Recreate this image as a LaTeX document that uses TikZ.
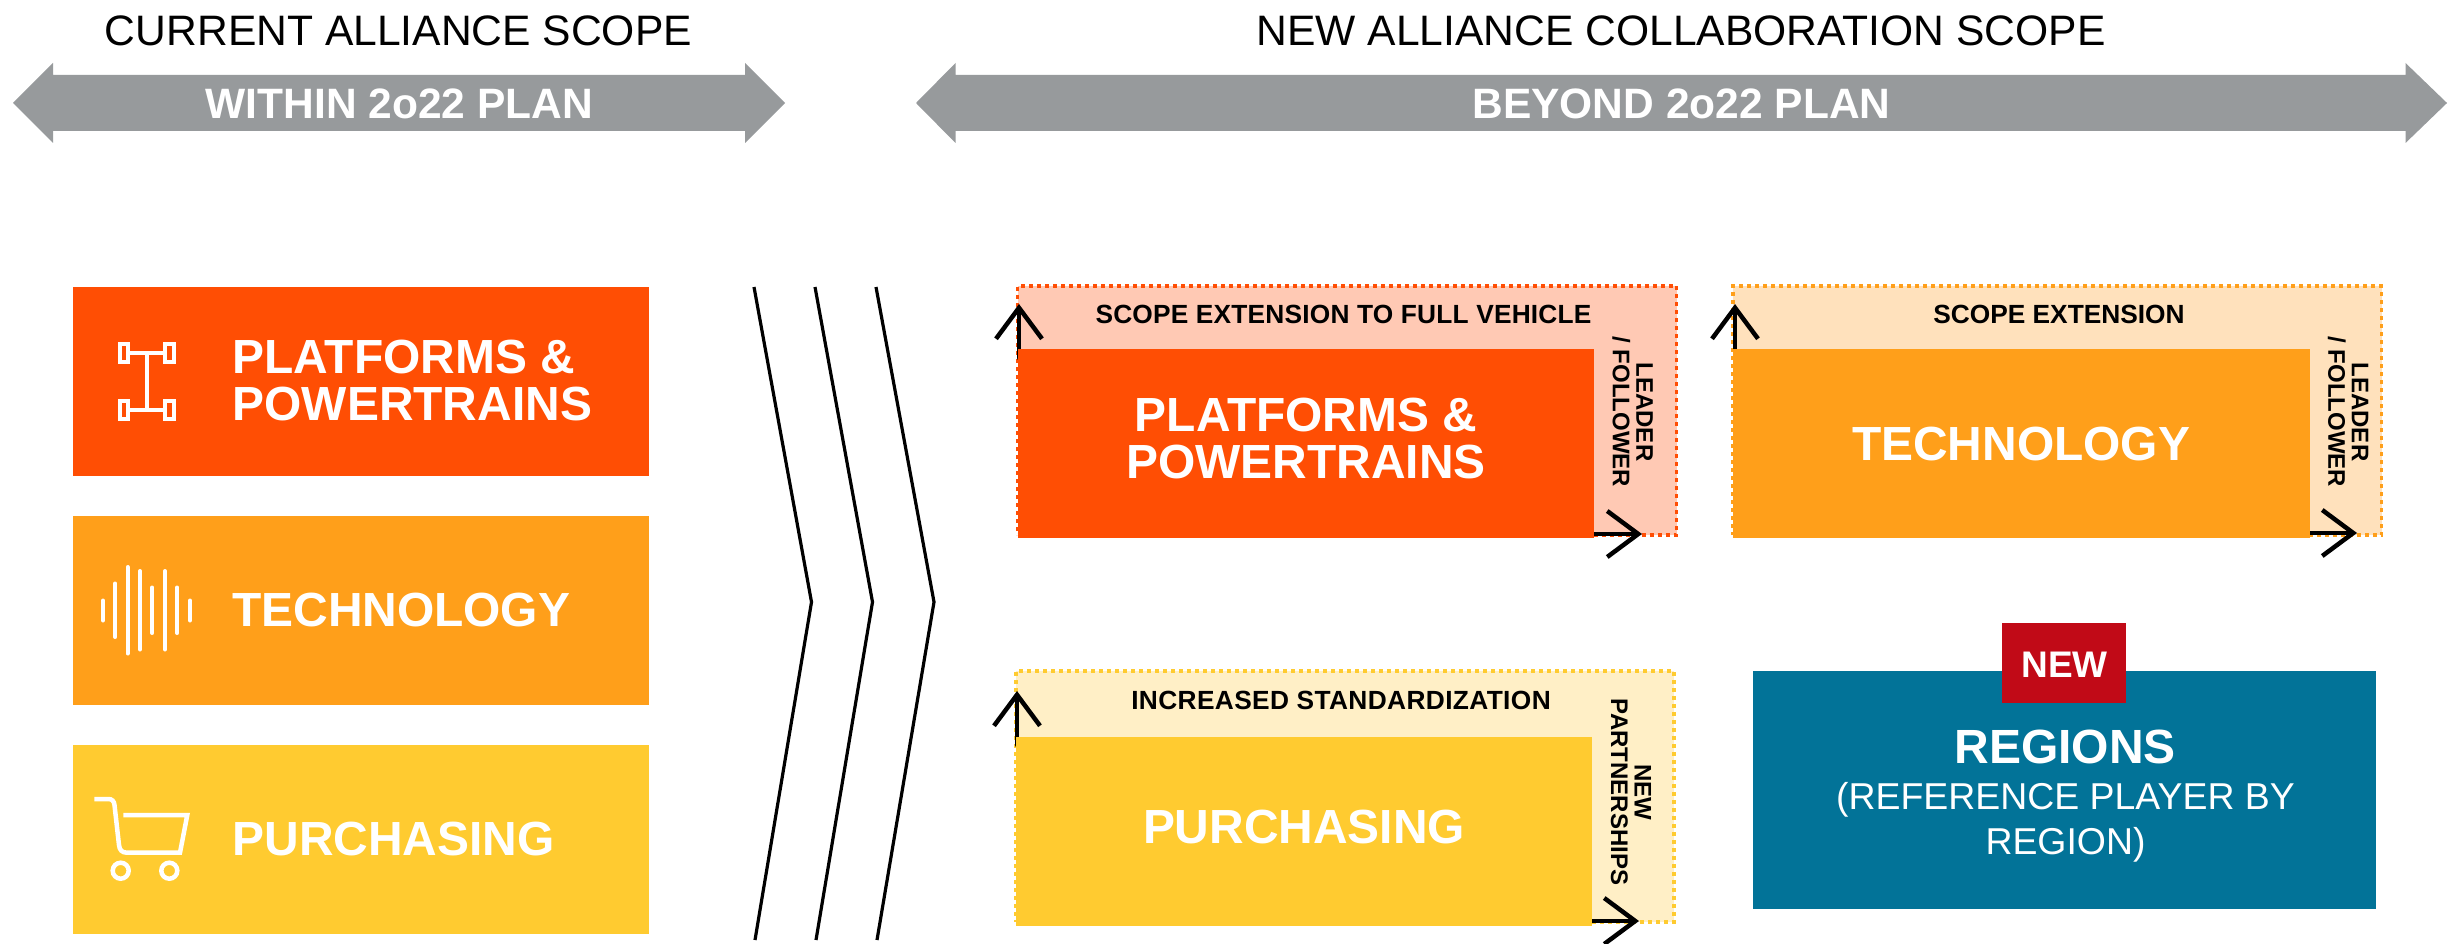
\documentclass[tikz,border=0pt]{standalone}
\usepackage{fontspec}
\setmainfont{Liberation Sans}
\usetikzlibrary{arrows.meta}
\definecolor{cOrange}{HTML}{FF4E04}
\definecolor{cAmber}{HTML}{FF9F1A}
\definecolor{cYellow}{HTML}{FFCB30}
\definecolor{pOrange}{HTML}{FFC9B4}
\definecolor{pAmber}{HTML}{FFE1BC}
\definecolor{pYellow}{HTML}{FFEFC6}
\definecolor{cGrey}{HTML}{979A9C}
\definecolor{cTeal}{HTML}{027398}
\definecolor{cRed}{HTML}{C10A17}
\newcommand{\fs}[2]{\fontsize{#1}{#2}\selectfont}
\tikzset{
  x=1pt,y=-1pt,
  blockbox/.style={inner sep=0pt,outer sep=0pt,anchor=north west},
  palebox/.style={blockbox,line width=3.5pt,dash pattern=on 4pt off 4pt},
  titletxt/.style={inner sep=0pt,black,anchor=base,font=\fs{42.6}{47}},
  bandtxt/.style={inner sep=0pt,white,anchor=base,font=\bfseries\fs{42.5}{47}},
  bigtxt/.style={inner sep=0pt,white,align=center,font=\bfseries\fs{47.9}{47}},
  lefttxt/.style={inner sep=0pt,white,align=left,anchor=west,font=\bfseries\fs{47.9}{47}},
  smalltxt/.style={inner sep=0pt,black,anchor=base,font=\bfseries\fs{26.3}{30}},
  sidetxt/.style={inner sep=0pt,black,align=center,rotate=-90,font=\bfseries\fs{24}{23.5}},
  growarrow/.style={line width=4.5pt,line cap=round,-{Straight Barb[length=31pt,width=46pt,line width=4.5pt]}},
  chev/.style={line width=3.2pt,black},
  icon/.style={white,line width=4pt},
}
\begin{document}
\begin{tikzpicture}
\useasboundingbox (0,0) rectangle (2459,944);
\fill[white] (0,0) rectangle (2459,944);

% header arrows
\fill[cGrey] (13,103) -- (53,63) -- (53,75) -- (745,75) -- (745,63) -- (785,103) -- (745,143) -- (745,131) -- (53,131) -- (53,143) -- cycle;
\fill[cGrey] (916,103) -- (955.5,63) -- (955.5,75) -- (2405.5,75) -- (2405.5,63) -- (2447,103) -- (2405.5,143) -- (2405.5,131) -- (955.5,131) -- (955.5,143) -- cycle;
\node[titletxt] (t1) at (398.5,45.5) {CURRENT ALLIANCE SCOPE};
\node[titletxt] (t2) at (1681,45.5) {NEW ALLIANCE COLLABORATION SCOPE};
\node[bandtxt] (b1) at (399.5,118.5) {WITHIN 2o22 PLAN};
\node[bandtxt] (b2) at (1681.5,118.5) {BEYOND 2o22 PLAN};

% left column
\node[blockbox,fill=cOrange,minimum width=576pt,minimum height=189pt] (L1) at (73,287) {};
\node[blockbox,fill=cAmber,minimum width=576pt,minimum height=189pt] (L2) at (73,516) {};
\node[blockbox,fill=cYellow,minimum width=576pt,minimum height=189pt] (L3) at (73,745) {};
\node[lefttxt] (L1t) at (232.5,381) {PLATFORMS \&\\POWERTRAINS};
\node[lefttxt] (L2t) at (232,610.5) {TECHNOLOGY};
\node[lefttxt] (L3t) at (232.5,839.5) {PURCHASING};

% platform icon
\draw[icon] (119.5,343.5) rectangle (127.5,361.5);
\draw[icon] (165,343.5) rectangle (173.5,361.5);
\draw[icon] (119.5,401) rectangle (127.5,419);
\draw[icon] (165,401) rectangle (173.5,419);
\draw[icon] (127.5,352.5) -- (165,352.5);
\draw[icon] (127.5,410) -- (165,410);
\draw[icon] (146.7,352.5) -- (146.7,410);
% technology icon
\begin{scope}[icon,line cap=round]
\draw (103,600.5) -- (103,620.5);
\draw (115.3,583.5) -- (115.3,637);
\draw (127.7,567) -- (127.7,653.5);
\draw (140,571) -- (140,649.5);
\draw (152.3,587.5) -- (152.3,633);
\draw (165,571) -- (165,649.5);
\draw (177.3,587.5) -- (177.3,633);
\draw (190,600.5) -- (190,620.5);
\end{scope}
% cart icon
\draw[icon,line width=4.5pt] (94.3,799) -- (108.3,799) .. controls (112,799) and (114,801) .. (114.5,805) -- (119,845) .. controls (119.5,850) and (122,852.7) .. (127,852.7) -- (180,852.7) -- (187.3,815) -- (123.3,815);
\draw[icon,line width=4.5pt] (120.7,870.7) circle[radius=8];
\draw[icon,line width=4.5pt] (169.3,870.7) circle[radius=8];

% chevrons
\draw[chev] (754,287) -- (811.5,602) -- (755,940);
\draw[chev] (815,287) -- (872.5,602) -- (816,940);
\draw[chev] (876,287) -- (934,602) -- (877,940);

% platforms panel
\node[palebox,draw=cOrange,fill=pOrange,minimum width=659pt,minimum height=249pt] (P0) at (1017.5,286) {};
\coordinate (P0up) at (1019,304);
\coordinate (P0start) at (1019,358);
\coordinate (P0r) at (1642,534);
\coordinate (P0rs) at (1594,534);
\draw[growarrow] (P0start) -- (P0up);
\draw[growarrow] (P0rs) -- (P0r);
\node[blockbox,fill=cOrange,minimum width=576pt,minimum height=188.5pt] (P1) at (1018,349) {};
\node[bigtxt] (P1t) at (1306,439) {PLATFORMS \&\\POWERTRAINS};
\node[smalltxt] (P0a) at (1343.5,323) {\addfontfeature{LetterSpace=0.8}SCOPE EXTENSION TO FULL VEHICLE};
\node[sidetxt] (P0b) at (1632.5,412) {LEADER\\/ FOLLOWER};

% technology panel
\node[palebox,draw=cAmber,fill=pAmber,minimum width=648.5pt,minimum height=249pt] (T0) at (1733,286) {};
\coordinate (T0up) at (1735,304);
\coordinate (T0start) at (1735,358);
\coordinate (T0r) at (2357,533);
\coordinate (T0rs) at (2310,533);
\draw[growarrow] (T0start) -- (T0up);
\draw[growarrow] (T0rs) -- (T0r);
\node[blockbox,fill=cAmber,minimum width=577pt,minimum height=188.5pt] (T1) at (1733,349) {};
\node[bigtxt] (T1t) at (2021,444.5) {TECHNOLOGY};
\node[smalltxt] (T0a) at (2059,323) {SCOPE EXTENSION};
\node[sidetxt] (T0b) at (2348,412) {LEADER\\/ FOLLOWER};

% purchasing panel
\node[palebox,draw=cYellow,fill=pYellow,minimum width=658pt,minimum height=251pt] (U0) at (1016,671) {};
\coordinate (U0up) at (1017,691);
\coordinate (U0start) at (1017,745);
\coordinate (U0r) at (1639,921);
\coordinate (U0rs) at (1592,921);
\draw[growarrow] (U0start) -- (U0up);
\draw[growarrow] (U0rs) -- (U0r);
\node[blockbox,fill=cYellow,minimum width=576pt,minimum height=188.7pt] (U1) at (1016,737) {};
\node[bigtxt] (U1t) at (1304,827) {PURCHASING};
\node[smalltxt] (U0a) at (1341,709.5) {\addfontfeature{LetterSpace=1.4}INCREASED STANDARDIZATION};
\node[sidetxt] (U0b) at (1631,792) {NEW\\PARTNERSHIPS};

% regions panel
\node[blockbox,fill=cTeal,minimum width=623pt,minimum height=238pt] (R0) at (1753,671) {};
\node[blockbox,fill=cRed,minimum width=124pt,minimum height=80pt] (R1) at (2002,623) {};
\node[inner sep=0pt,white,anchor=base,font=\bfseries\fs{37}{40}] (R1t) at (2064.5,677) {NEW};
\node[inner sep=0pt,white,anchor=base,font=\bfseries\fs{48}{50}] (R0t) at (2065,763) {REGIONS};
\node[inner sep=0pt,white,align=center,font=\fs{37.4}{45}] (R0s) at (2065.5,822) {(REFERENCE PLAYER BY\\REGION)};
\end{tikzpicture}
\end{document}
